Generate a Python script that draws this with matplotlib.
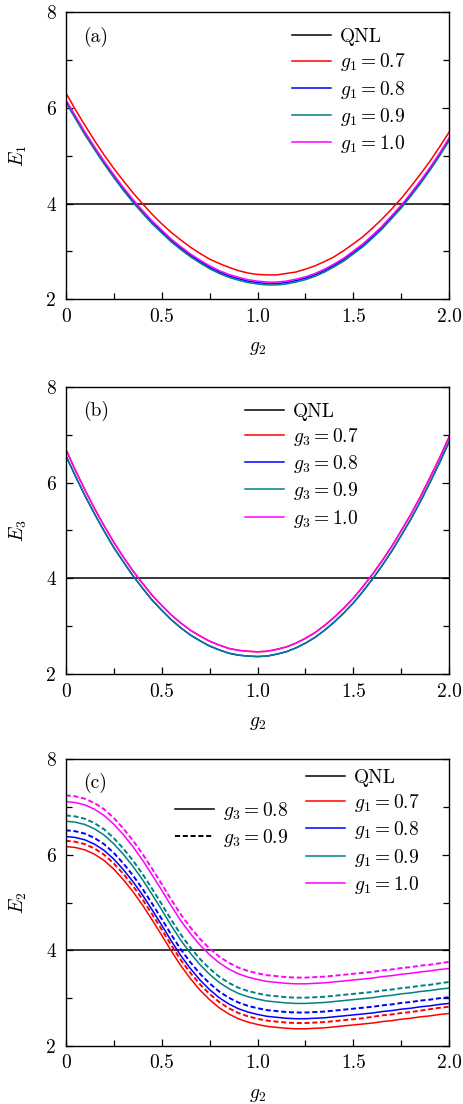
"""
Three stacked panels: E1, E3 and E2 against g2 for several g1 / g3 values,
with the QNL reference line at 4.
"""
import matplotlib
matplotlib.use("Agg")
import matplotlib.pyplot as plt
from matplotlib.lines import Line2D
from matplotlib.ticker import FixedLocator, FixedFormatter, MultipleLocator

G2 = [0.00, 0.05, 0.10, 0.15, 0.20, 0.25, 0.30, 0.35, 0.40, 0.45,
      0.50, 0.55, 0.60, 0.65, 0.70, 0.75, 0.80, 0.85, 0.90, 0.95,
      1.00, 1.05, 1.10, 1.15, 1.20, 1.25, 1.30, 1.35, 1.40, 1.45,
      1.50, 1.55, 1.60, 1.65, 1.70, 1.75, 1.80, 1.85, 1.90, 1.95, 2.00]
QNL = 4.0

# panel (a): E1, varying g1
A_G1 = ["0.7", "0.8", "0.9", "1.0"]
A_E1 = [
    [6.32, 5.97, 5.64, 5.32, 5.02, 4.74, 4.48, 4.23, 4.00, 3.78,
     3.58, 3.40, 3.24, 3.09, 2.96, 2.84, 2.75, 2.67, 2.60, 2.55,
     2.52, 2.51, 2.51, 2.54, 2.57, 2.63, 2.70, 2.79, 2.89, 3.02,
     3.16, 3.31, 3.49, 3.68, 3.89, 4.11, 4.36, 4.62, 4.89, 5.19, 5.50],
    [6.15, 5.81, 5.47, 5.16, 4.86, 4.58, 4.31, 4.06, 3.83, 3.61,
     3.42, 3.23, 3.07, 2.92, 2.79, 2.67, 2.57, 2.49, 2.43, 2.38,
     2.35, 2.33, 2.33, 2.35, 2.39, 2.44, 2.51, 2.60, 2.71, 2.83,
     2.98, 3.13, 3.31, 3.50, 3.72, 3.94, 4.19, 4.45, 4.73, 5.03, 5.35],
    [6.12, 5.78, 5.44, 5.13, 4.83, 4.55, 4.28, 4.03, 3.80, 3.58,
     3.39, 3.20, 3.04, 2.89, 2.76, 2.64, 2.54, 2.46, 2.40, 2.35,
     2.32, 2.30, 2.30, 2.32, 2.36, 2.41, 2.48, 2.57, 2.68, 2.80,
     2.95, 3.10, 3.28, 3.47, 3.69, 3.91, 4.16, 4.42, 4.70, 5.00, 5.32],
    [6.18, 5.84, 5.50, 5.19, 4.89, 4.61, 4.34, 4.09, 3.86, 3.64,
     3.45, 3.26, 3.10, 2.95, 2.82, 2.70, 2.60, 2.52, 2.46, 2.41,
     2.38, 2.36, 2.36, 2.38, 2.42, 2.47, 2.54, 2.63, 2.74, 2.86,
     3.01, 3.16, 3.34, 3.53, 3.75, 3.97, 4.22, 4.48, 4.76, 5.06, 5.38],
]

# panel (b): E3, varying g3
B_G3 = ["0.7", "0.8", "0.9", "1.0"]
B_E3 = [
    [6.70, 6.26, 5.85, 5.46, 5.10, 4.76, 4.45, 4.16, 3.90, 3.65,
     3.44, 3.24, 3.07, 2.92, 2.80, 2.69, 2.61, 2.54, 2.50, 2.48,
     2.47, 2.48, 2.52, 2.57, 2.65, 2.75, 2.87, 3.02, 3.19, 3.38,
     3.59, 3.83, 4.09, 4.37, 4.67, 5.00, 5.34, 5.71, 6.11, 6.52, 6.96],
    [6.57, 6.14, 5.73, 5.35, 4.99, 4.65, 4.35, 4.06, 3.80, 3.55,
     3.34, 3.14, 2.97, 2.82, 2.70, 2.59, 2.51, 2.44, 2.40, 2.38,
     2.37, 2.38, 2.42, 2.47, 2.55, 2.65, 2.77, 2.92, 3.09, 3.28,
     3.49, 3.73, 3.99, 4.27, 4.57, 4.90, 5.24, 5.61, 6.01, 6.42, 6.86],
    [6.57, 6.14, 5.73, 5.35, 4.99, 4.65, 4.35, 4.06, 3.80, 3.55,
     3.34, 3.14, 2.97, 2.82, 2.70, 2.59, 2.51, 2.44, 2.40, 2.38,
     2.37, 2.38, 2.42, 2.47, 2.55, 2.65, 2.77, 2.92, 3.09, 3.28,
     3.49, 3.73, 3.99, 4.27, 4.57, 4.90, 5.24, 5.61, 6.01, 6.42, 6.86],
    [6.70, 6.26, 5.85, 5.46, 5.10, 4.76, 4.45, 4.16, 3.90, 3.65,
     3.44, 3.24, 3.07, 2.92, 2.80, 2.69, 2.61, 2.54, 2.50, 2.48,
     2.47, 2.48, 2.52, 2.57, 2.65, 2.75, 2.87, 3.02, 3.19, 3.38,
     3.59, 3.83, 4.09, 4.37, 4.67, 5.00, 5.34, 5.71, 6.11, 6.52, 6.96],
]

# panel (c): E2, varying g1, solid g3 = 0.8, dashed g3 = 0.9
C_G1 = ["0.7", "0.8", "0.9", "1.0"]
C_G3 = ["0.8", "0.9"]
C_E2_G3_08 = [
    [6.17, 6.15, 6.10, 6.01, 5.88, 5.70, 5.48, 5.23, 4.95, 4.64,
     4.32, 3.99, 3.68, 3.41, 3.17, 2.97, 2.80, 2.67, 2.57, 2.50,
     2.45, 2.41, 2.39, 2.37, 2.36, 2.36, 2.37, 2.38, 2.40, 2.42,
     2.44, 2.46, 2.48, 2.51, 2.53, 2.56, 2.58, 2.61, 2.63, 2.66, 2.68],
    [6.38, 6.36, 6.31, 6.22, 6.09, 5.91, 5.69, 5.44, 5.16, 4.85,
     4.53, 4.20, 3.89, 3.62, 3.38, 3.18, 3.01, 2.88, 2.78, 2.71,
     2.66, 2.62, 2.60, 2.58, 2.57, 2.57, 2.58, 2.59, 2.61, 2.63,
     2.65, 2.67, 2.69, 2.72, 2.74, 2.77, 2.79, 2.82, 2.84, 2.87, 2.89],
    [6.70, 6.68, 6.63, 6.54, 6.41, 6.23, 6.01, 5.76, 5.48, 5.17,
     4.85, 4.52, 4.21, 3.94, 3.70, 3.50, 3.33, 3.20, 3.10, 3.03,
     2.98, 2.94, 2.92, 2.90, 2.89, 2.89, 2.90, 2.91, 2.93, 2.95,
     2.97, 2.99, 3.01, 3.04, 3.06, 3.09, 3.11, 3.14, 3.16, 3.19, 3.21],
    [7.11, 7.09, 7.04, 6.95, 6.82, 6.64, 6.42, 6.17, 5.89, 5.58,
     5.26, 4.93, 4.62, 4.35, 4.11, 3.91, 3.74, 3.61, 3.51, 3.44,
     3.39, 3.35, 3.33, 3.31, 3.30, 3.30, 3.31, 3.32, 3.34, 3.36,
     3.38, 3.40, 3.42, 3.45, 3.47, 3.50, 3.52, 3.55, 3.57, 3.60, 3.62],
]
C_E2_G3_09 = [
    [6.29, 6.27, 6.22, 6.13, 6.00, 5.82, 5.60, 5.35, 5.07, 4.76,
     4.44, 4.11, 3.80, 3.53, 3.29, 3.09, 2.92, 2.79, 2.69, 2.62,
     2.57, 2.53, 2.51, 2.49, 2.48, 2.48, 2.49, 2.50, 2.52, 2.54,
     2.56, 2.58, 2.61, 2.64, 2.66, 2.69, 2.71, 2.74, 2.77, 2.80, 2.82],
    [6.51, 6.49, 6.44, 6.35, 6.22, 6.04, 5.82, 5.57, 5.29, 4.98,
     4.66, 4.33, 4.02, 3.75, 3.51, 3.31, 3.14, 3.01, 2.91, 2.84,
     2.79, 2.75, 2.73, 2.71, 2.70, 2.70, 2.71, 2.72, 2.74, 2.76,
     2.78, 2.80, 2.82, 2.85, 2.87, 2.90, 2.92, 2.95, 2.97, 3.00, 3.02],
    [6.82, 6.80, 6.75, 6.66, 6.53, 6.35, 6.13, 5.88, 5.60, 5.29,
     4.97, 4.64, 4.33, 4.06, 3.82, 3.62, 3.45, 3.32, 3.22, 3.15,
     3.10, 3.06, 3.04, 3.02, 3.01, 3.01, 3.02, 3.03, 3.05, 3.07,
     3.09, 3.11, 3.13, 3.16, 3.18, 3.21, 3.23, 3.26, 3.28, 3.31, 3.34],
    [7.24, 7.22, 7.17, 7.08, 6.95, 6.77, 6.55, 6.30, 6.02, 5.71,
     5.39, 5.06, 4.75, 4.48, 4.24, 4.04, 3.87, 3.74, 3.64, 3.57,
     3.52, 3.48, 3.46, 3.44, 3.43, 3.43, 3.44, 3.45, 3.47, 3.49,
     3.51, 3.53, 3.55, 3.58, 3.60, 3.63, 3.65, 3.68, 3.70, 3.73, 3.76],
]

COLORS = ["#ff0000", "#0000ff", "#008080", "#ff00ff"]
LW = 1.1
DASH = (0, (2.6, 1.4))
FS = 14

W, H = 463, 1104
# axes boxes in pixels: left, top, right, bottom
BOXES = [(65.7, 12.3, 449.3, 299.3),
         (65.7, 386.7, 449.3, 674.3),
         (65.7, 759.0, 449.3, 1046.0)]


def px_axes(fig, box):
    l, t, r, b = box
    return fig.add_axes([l / W, 1 - b / H, (r - l) / W, (b - t) / H])


def style_axes(ax, tag, ylab):
    ax.set_xlim(0, 2)
    ax.set_ylim(2, 8)
    ax.xaxis.set_major_locator(FixedLocator([0, 0.5, 1.0, 1.5, 2.0]))
    ax.xaxis.set_major_formatter(FixedFormatter(["0", "0.5", "1.0", "1.5", "2.0"]))
    ax.xaxis.set_minor_locator(MultipleLocator(0.25))
    ax.yaxis.set_major_locator(FixedLocator([2, 4, 6, 8]))
    ax.yaxis.set_major_formatter(FixedFormatter(["2", "4", "6", "8"]))
    ax.yaxis.set_minor_locator(MultipleLocator(1))
    ax.tick_params(which="both", direction="in", labelsize=FS, right=True)
    ax.tick_params(which="major", length=5, width=0.9)
    ax.tick_params(which="minor", length=4, width=0.9)
    ax.tick_params(axis="x", which="both", pad=6)
    ax.tick_params(axis="y", which="both", pad=7)
    for sp in ax.spines.values():
        sp.set_linewidth(1.0)
    ax.axhline(QNL, color="black", linewidth=LW, zorder=1)
    ax.text(0.045, 0.915, tag, transform=ax.transAxes, fontsize=FS,
            va="center", ha="left")
    ax.set_ylabel(ylab, fontsize=FS, labelpad=12)
    ax.set_xlabel(r"$g_2$", fontsize=FS, labelpad=10)


def add_legend(ax, handles, x, y):
    leg = ax.legend(handles=handles, loc="upper left", bbox_to_anchor=(x, y),
                    frameon=False, fontsize=FS, handlelength=2.0,
                    handletextpad=0.46, labelspacing=0.27, borderpad=0,
                    borderaxespad=0)
    return leg


def qnl_handle():
    return Line2D([0], [0], color="black", linewidth=LW, label="QNL")


def main():
    plt.rcParams.update({
        "font.family": "serif",
        "font.serif": ["cmr10", "DejaVu Serif"],
        "mathtext.fontset": "cm",
        "axes.formatter.use_mathtext": True,
        "axes.unicode_minus": False,
    })
    fig = plt.figure(figsize=(W / 100, H / 100), dpi=100)

    # (a)
    ax = px_axes(fig, BOXES[0])
    style_axes(ax, "(a)", r"$E_1$")
    hs = [qnl_handle()]
    for lab, ys, c in zip(A_G1, A_E1, COLORS):
        ax.plot(G2, ys, color=c, linewidth=LW)
        hs.append(Line2D([0], [0], color=c, linewidth=LW,
                         label=rf"$g_1 = {lab}$"))
    add_legend(ax, hs, 0.59, 0.945)

    # (b)
    ax = px_axes(fig, BOXES[1])
    style_axes(ax, "(b)", r"$E_3$")
    hs = [qnl_handle()]
    for lab, ys, c in zip(B_G3, B_E3, COLORS):
        ax.plot(G2, ys, color=c, linewidth=LW)
        hs.append(Line2D([0], [0], color=c, linewidth=LW,
                         label=rf"$g_3 = {lab}$"))
    add_legend(ax, hs, 0.467, 0.945)

    # (c)
    ax = px_axes(fig, BOXES[2])
    style_axes(ax, "(c)", r"$E_2$")
    hs = [qnl_handle()]
    for lab, ys, yd, c in zip(C_G1, C_E2_G3_08, C_E2_G3_09, COLORS):
        ax.plot(G2, ys, color=c, linewidth=LW)
        ax.plot(G2, yd, color=c, linewidth=LW + 0.3, linestyle=DASH)
        hs.append(Line2D([0], [0], color=c, linewidth=LW,
                         label=rf"$g_1 = {lab}$"))
    leg = add_legend(ax, hs, 0.626, 0.966)
    ax.add_artist(leg)
    hs3 = [Line2D([0], [0], color="black", linewidth=LW,
                  label=rf"$g_3 = {C_G3[0]}$"),
           Line2D([0], [0], color="black", linewidth=LW + 0.3, linestyle=DASH,
                  label=rf"$g_3 = {C_G3[1]}$")]
    add_legend(ax, hs3, 0.285, 0.858)

    fig.savefig("out.png", dpi=100)
    plt.close(fig)


if __name__ == "__main__":
    main()
